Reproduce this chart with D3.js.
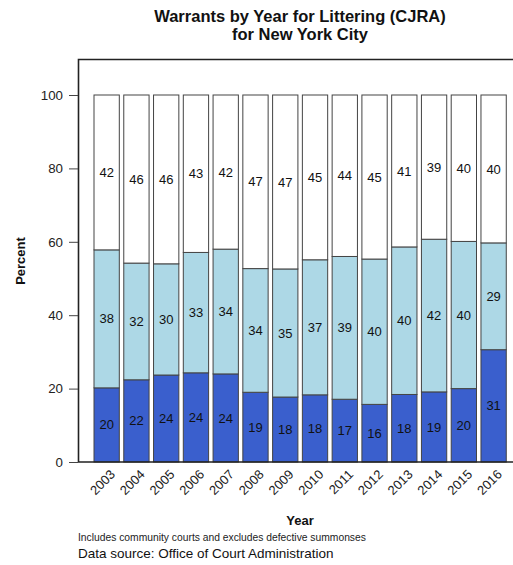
<!DOCTYPE html>
<html>
<head>
<meta charset="utf-8">
<script src="https://cdn.jsdelivr.net/npm/d3@7"></script>
<style>
  body { margin: 0; background: #fff; }
  svg { display: block; font-family: "Liberation Sans", Arial, Helvetica, sans-serif; }
</style>
</head>
<body>
<svg id="chart" width="513" height="565"></svg>
<script>
const years = ["2003","2004","2005","2006","2007","2008","2009","2010","2011","2012","2013","2014","2015","2016"];
const bottomVals = [20.2, 22.4, 23.7, 24.3, 24.0, 19.0, 17.7, 18.3, 17.1, 15.7, 18.4, 19.1, 20.0, 30.6];
const middleVals = [37.6, 31.8, 30.3, 32.8, 34.0, 33.7, 34.9, 36.8, 38.9, 39.6, 40.2, 41.6, 40.1, 29.1];
const topVals    = [42.2, 45.8, 46.0, 42.9, 42.0, 47.3, 47.4, 44.9, 44.0, 44.7, 41.4, 39.3, 39.9, 40.3];
const yTicks = [0, 20, 40, 60, 80, 100];
const seriesColors = ["#3A5FCD", "#ADD8E6", "#FFFFFF"];
const titleLines = ["Warrants by Year for Littering (CJRA)", "for New York City"];
const xTitle = "Year";
const yTitle = "Percent";
const note = "Includes community courts and excludes defective summonses";
const source = "Data source: Office of Court Administration";

const svg = d3.select("#chart");
const x = d3.scaleBand().domain(years).range([91.77, 508.5]).paddingInner(0.15).paddingOuter(0.075);
const y = d3.scaleLinear().domain([0, 100]).range([462, 95]);

const rows = years.map((yr, i) => ({year: yr, b: bottomVals[i], m: middleVals[i], t: topVals[i]}));
const stack = d3.stack().keys(["b", "m", "t"])(rows);

// bars
stack.forEach((layer, li) => {
  svg.append("g").selectAll("rect").data(layer).join("rect")
    .attr("x", d => x(d.data.year))
    .attr("y", d => y(d[1]))
    .attr("width", x.bandwidth())
    .attr("height", d => y(d[0]) - y(d[1]))
    .attr("fill", seriesColors[li])
    .attr("stroke", "#444")
    .attr("stroke-width", 1);
});

// labels
stack.forEach((layer) => {
  svg.append("g").selectAll("text").data(layer).join("text")
    .attr("x", d => x(d.data.year) + x.bandwidth() / 2)
    .attr("y", d => y((d[0] + d[1]) / 2))
    .attr("dy", "0.35em")
    .attr("text-anchor", "middle")
    .attr("font-size", 13)
    .attr("fill", "#111")
    .text(d => Math.round(d[1] - d[0]));
});

// box (left, top, bottom)
svg.append("path")
  .attr("d", `M513,59.5 H78.5 V462 H513`)
  .attr("fill", "none").attr("stroke", "#222").attr("stroke-width", 1.6);

// y axis ticks
const yAxis = d3.axisLeft(y).tickValues(yTicks).tickSize(9).tickPadding(6);
const gy = svg.append("g").attr("transform", "translate(78,0)").call(yAxis);
gy.select(".domain").remove();
gy.selectAll(".tick line").attr("stroke", "#444");
gy.selectAll(".tick text").attr("font-size", 13.3).attr("fill", "#222").attr("font-family", "Liberation Sans, Arial, sans-serif");

// x labels
const gx = svg.append("g");
gx.selectAll("text").data(years).join("text")
  .attr("transform", d => `translate(${x(d) + x.bandwidth() / 2 + 6},${472}) rotate(-45)`)
  .attr("text-anchor", "end")
  .attr("dy", "0.35em")
  .attr("font-size", 13)
  .attr("fill", "#222")
  .text(d => d);

// titles
svg.append("g").selectAll("text").data(titleLines).join("text")
  .attr("x", 300).attr("y", (d, i) => 22 + i * 18)
  .attr("text-anchor", "middle")
  .attr("font-size", 16.5).attr("font-weight", "bold").attr("fill", "#111")
  .text(d => d);

svg.append("text").attr("x", 300).attr("y", 525).attr("text-anchor", "middle")
  .attr("font-size", 13).attr("font-weight", "bold").attr("fill", "#111").text(xTitle);

svg.append("text").attr("transform", "translate(25,261) rotate(-90)").attr("text-anchor", "middle")
  .attr("font-size", 13).attr("font-weight", "bold").attr("fill", "#111").text(yTitle);

svg.append("text").attr("x", 78).attr("y", 541).attr("font-size", 10.3).attr("fill", "#222").text(note);
svg.append("text").attr("x", 78).attr("y", 558).attr("font-size", 13.5).attr("fill", "#111").text(source);
</script>
</body>
</html>
